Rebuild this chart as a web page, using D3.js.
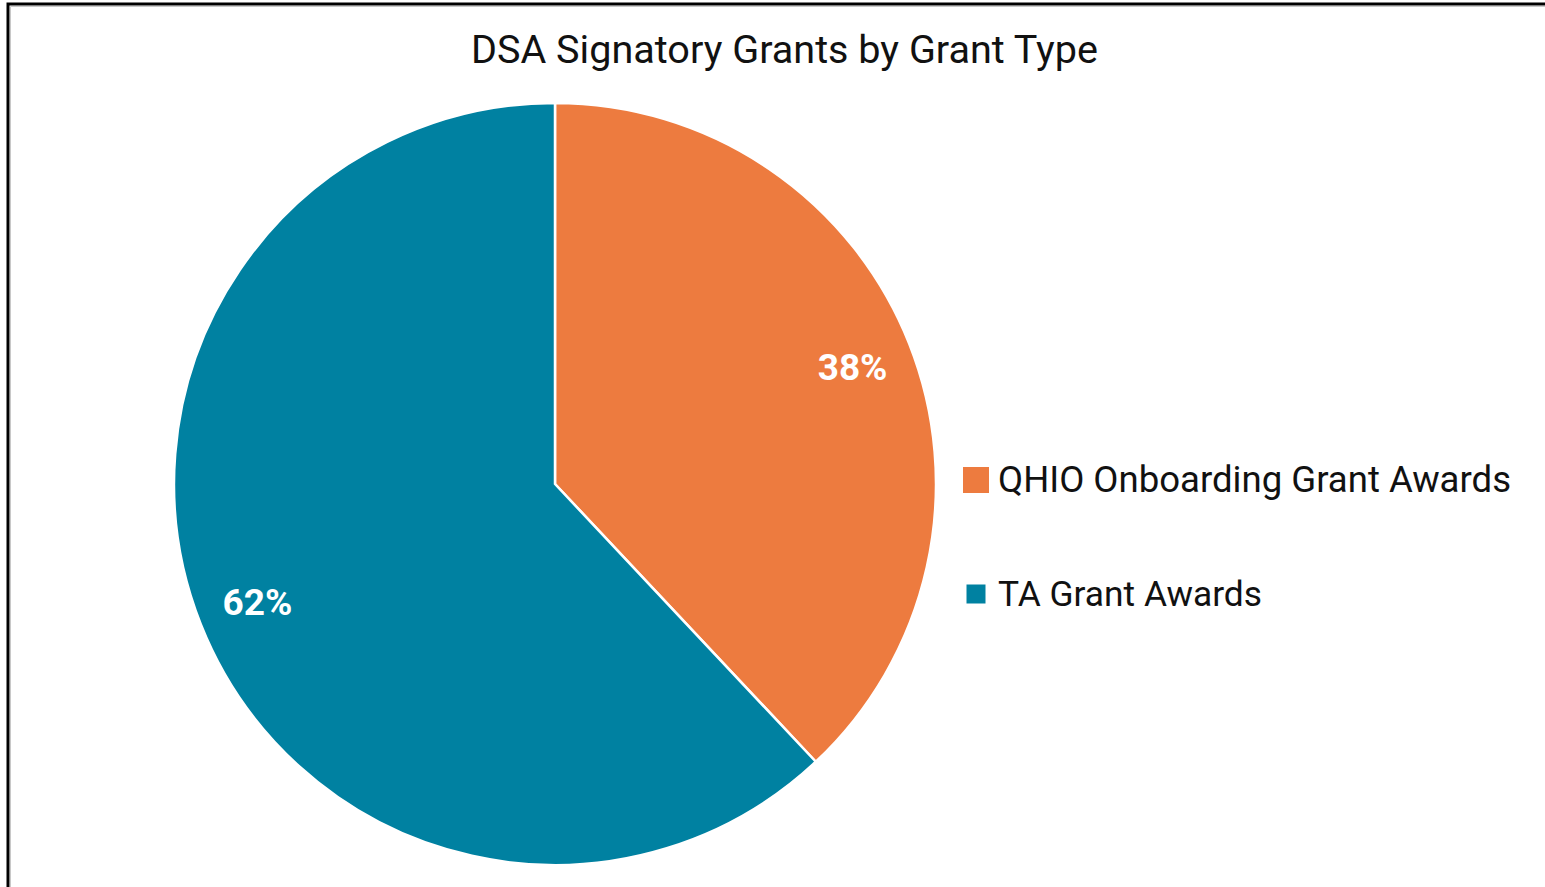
<!DOCTYPE html>
<html>
<head>
<meta charset="utf-8">
<script src="https://cdn.jsdelivr.net/npm/d3@7"></script>
<style>
  html, body { margin: 0; padding: 0; background: #fff; }
  svg { display: block; }
</style>
</head>
<body>
<svg id="chart" width="1545" height="887"></svg>
<script>
// Grant types and their share of signatory grants (percent)
const categories = ["QHIO Onboarding Grant Awards", "TA Grant Awards"];
const values = [38, 62];
const colors = ["#ED7B3F", "#0081A1"];
const titleText = "DSA Signatory Grants by Grant Type";

const W = 1545, H = 887;
const svg = d3.select("#chart");
const FONT = "Roboto, 'Liberation Sans', sans-serif";

// Frame around the chart area
svg.append("rect")
  .attr("x", 8).attr("y", 4)
  .attr("width", W + 20).attr("height", H + 20)
  .attr("fill", "#fff")
  .attr("stroke", "#000").attr("stroke-width", 3);
svg.append("path")
  .attr("d", `M10.5,${H} V6.5 H${W}`)
  .attr("fill", "none").attr("stroke", "#c8c8c8").attr("stroke-width", 1);

// Fit a text element to a target width by adjusting font size
function fitWidth(sel, target) {
  let fs = parseFloat(sel.attr("font-size"));
  for (let i = 0; i < 4; i++) {
    const w = sel.node().getComputedTextLength();
    fs = fs * target / w;
    sel.attr("font-size", fs);
  }
}

// Title
const title = svg.append("text")
  .attr("x", 784.5).attr("y", 63)
  .attr("text-anchor", "middle")
  .attr("font-family", FONT)
  .attr("font-size", 38)
  .attr("fill", "#111")
  .text(titleText);
fitWidth(title, 627);

// Pie
const cx = 555, cy = 484, R = 381;
const pie = d3.pie().sort(null).value(d => d.value);
const data = categories.map((c, i) => ({ name: c, value: values[i], color: colors[i] }));
const arcs = pie(data);
const arc = d3.arc().innerRadius(0).outerRadius(R);
const labelArc = d3.arc().innerRadius(R * 0.84).outerRadius(R * 0.84);
const total = d3.sum(values);

const g = svg.append("g").attr("transform", `translate(${cx},${cy})`);
g.selectAll("path.slice")
  .data(arcs)
  .join("path")
  .attr("class", "slice")
  .attr("d", arc)
  .attr("fill", d => d.data.color)
  .attr("stroke", "#fff")
  .attr("stroke-width", 2.5)
  .attr("stroke-linejoin", "round");

g.selectAll("text.pct")
  .data(arcs)
  .join("text")
  .attr("class", "pct")
  .attr("transform", d => {
    const [x, y] = labelArc.centroid(d);
    return `translate(${x},${y})`;
  })
  .attr("text-anchor", "middle")
  .attr("dy", "0.36em")
  .attr("font-family", FONT)
  .attr("font-weight", "bold")
  .attr("font-size", 37)
  .attr("fill", "#fff")
  .text(d => Math.round(d.data.value / total * 100) + "%");

// Legend
const legendRows = [
  { y: 492, box: 26 },
  { y: 606, box: 19 }
];
const legend = svg.append("g");
data.forEach((d, i) => {
  const row = legendRows[i];
  const bx = 976 - row.box / 2;
  const by = row.y - 12 - row.box / 2;
  legend.append("rect")
    .attr("x", bx).attr("y", by)
    .attr("width", row.box).attr("height", row.box)
    .attr("fill", d.color);
  const t = legend.append("text")
    .attr("x", 998).attr("y", row.y)
    .attr("font-family", FONT)
    .attr("font-size", 36)
    .attr("fill", "#111")
    .text(d.name);
  fitWidth(t, i === 0 ? 513 : 264);
});
</script>
</body>
</html>
